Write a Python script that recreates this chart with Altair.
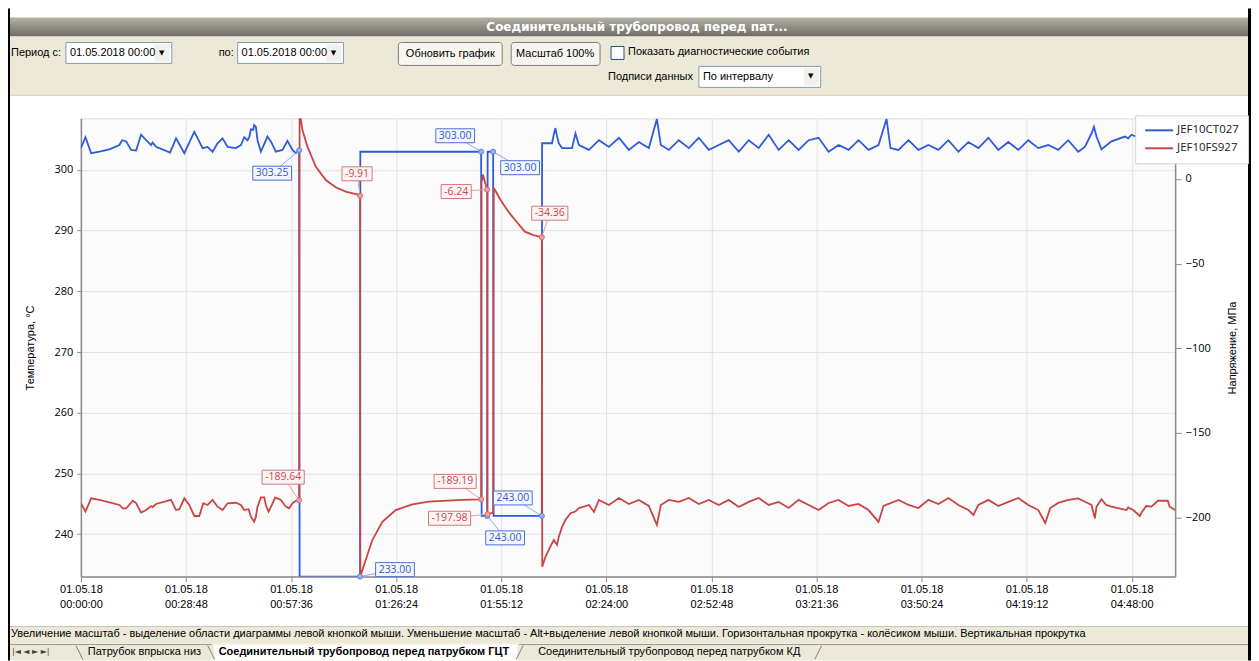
import altair as alt
import pandas as pd

# ---------------- data ----------------
SERIES = ["JEF10CT027", "JEF10FS927"]

# time in minutes after 01.05.18 00:00:00
BLUE_T = [0, 1.26, 2.82, 5.09, 7.83, 10.56, 11.30, 12.40, 13.76, 15.13, 16.50, 17.87, 19.24, 19.67, 20.61,
          24.44, 26.08, 28.35, 31.09, 33.36, 34.73, 36.09, 37.46, 38.83, 40.20, 42.50, 43.86, 44.77, 45.67,
          46.14, 46.60, 47.23, 47.50, 47.97, 48.41, 49.34, 51.14, 52.07, 53.44, 55.25, 56.62, 57.98, 58.91, 59.82,
          59.95, 76.51, 76.59, 109.70, 109.84, 111.34, 111.48, 112.99, 113.12, 126.32,
          126.40, 129.13, 129.60, 130.06, 130.50, 130.97, 131.87, 134.61, 135.54,
          136.51, 139.25, 141.98, 144.72, 147.46, 150.19, 152.93, 155.67, 157.86, 158.95,
          161.14, 163.88, 166.62, 169.35, 172.09, 174.83, 177.56, 180.30, 183.04, 185.77,
          188.51, 191.25, 193.98, 196.72, 199.46, 202.19, 204.93, 207.66, 210.40, 213.14,
          215.87, 218.61, 220.80, 221.89, 224.08, 226.82, 229.55, 232.29, 235.03, 237.76,
          240.50, 243.24, 245.97, 248.71, 251.45, 254.18, 256.92, 259.66, 262.39, 265.13,
          267.87, 270.60, 273.34,
          275.17, 276.98, 277.64, 278.35, 279.72, 282.46, 286.12, 287.03, 287.93, 291.13, 295.24, 299.9]
BLUE_V = [303.6, 305.4, 302.75, 303.0, 303.4, 304.1, 304.9, 304.7, 303.3, 303.2, 305.8, 304.9, 304.1, 304.5, 303.8,
          302.85, 305.2, 302.75, 306.3, 303.6, 303.8, 303.0, 304.4, 305.2, 303.8, 303.6, 304.1, 305.4, 304.9,
          305.4, 306.7, 306.6, 307.4, 307.1, 304.9, 303.0, 305.5, 304.7, 303.0, 303.3, 304.8, 303.3, 302.75, 303.25,
          233.0, 233.0, 303.0, 303.0, 243.0, 243.0, 303.0, 303.0, 243.0, 243.0,
          304.4, 304.4, 305.8, 306.9, 305.6, 304.4, 303.6, 303.6, 306.0,
          304.1, 303.3, 304.9, 303.8, 305.3, 303.3, 304.6, 303.6, 308.4, 304.1,
          303.3, 304.9, 303.6, 305.3, 303.3, 304.1, 304.9, 303.0, 304.9, 303.6,
          305.8, 303.3, 304.9, 303.3, 304.9, 305.3, 303.0, 304.1, 303.3, 304.9,
          303.3, 304.1, 308.4, 303.6, 303.3, 304.9, 303.3, 304.1, 303.3, 304.9,
          303.0, 304.6, 303.6, 305.3, 303.3, 304.6, 303.3, 304.9, 303.6, 304.1,
          303.3, 304.9, 303.0,
          303.8, 306.0, 307.1, 305.5, 303.4, 304.7, 305.5, 305.2, 305.8, 305.0, 305.4, 305.0]

RED_T = [0, 1.26, 2.82, 5.09, 10.56, 11.48, 12.40, 14.23, 15.13, 16.50, 17.87, 19.24, 19.67, 20.61, 24.71,
         26.08, 27.00, 28.35, 29.71, 31.09, 32.45, 33.55, 34.73, 36.09, 37.46, 38.83, 40.20, 42.50, 43.86,
         44.77, 45.95, 46.60, 47.50, 47.97, 48.41, 49.34, 50.25, 50.70, 51.42, 52.35, 53.25, 54.81, 56.17,
         57.08, 57.98, 58.91, 59.82,
         59.95, 60.72, 62.09, 64.37, 67.11, 69.85, 72.58, 76.23, 76.51, 76.60,
         78.06, 79.88, 82.62, 86.28, 90.83, 95.40, 104.5, 109.70, 109.80, 110.20,
         110.70, 111.34, 111.45, 112.99, 113.15, 113.5, 114.8, 116.2, 117.6, 119.0, 121.7, 124.0, 126.32,
         126.45, 127.35, 128.7, 129.6, 130.5, 131.0, 131.9, 132.8, 134.2, 135.5,
         136.51, 139.25, 140.61, 141.98, 144.72, 147.46, 150.19, 152.93, 155.67, 157.86,
         158.95, 161.14, 163.88, 166.62, 169.35, 172.09, 174.83, 177.56, 180.30, 183.04,
         185.77, 188.51, 191.25, 193.98, 196.72, 199.46, 202.19, 204.93, 207.66, 210.40,
         213.14, 215.87, 218.61, 219.98, 224.08, 226.82, 229.55, 232.29, 235.03, 237.76,
         240.50, 243.24, 244.61, 245.97, 248.71, 251.45, 254.18, 256.92, 259.66, 262.39,
         264.31, 265.68, 267.87, 270.60, 273.34, 276.07, 276.98, 277.91, 278.35, 279.72,
         281.0, 282.46, 286.56, 287.03, 288.40, 290.23, 290.67, 292.0, 293.4, 295.2,
         297.9, 298.4, 299.9]
RED_V = [-191.5, -196.4, -188.6, -189.5, -192.5, -194.5, -194.5, -190.0, -191.4, -197.0, -195.5, -193.1, -193.7,
         -191.9, -189.5, -195.5, -195.0, -188.6, -192.5, -199.0, -199.0, -191.5, -192.5, -189.5, -193.5, -195.5,
         -191.5, -191.2, -192.5, -195.5, -195.0, -199.4, -202.4, -199.4, -193.5, -188.0, -188.0, -192.5, -196.4,
         -192.5, -188.0, -189.5, -193.5, -194.5, -191.5, -190.0, -189.64,
         40.0, 28.9, 19.1, 7.3, -0.6, -4.9, -7.5, -9.4, -9.91, -234.5,
         -225.0, -213.2, -202.4, -195.5, -192.1, -190.5, -189.5, -189.19, -2.0, 2.5,
         -1.5, -6.24, -197.98, -197.0, -5.5, -6.5, -11.5, -16.3, -20.5, -24.2, -31.1, -33.2, -34.36,
         -229.0, -223.0, -217.0, -213.2, -216.0, -211.2, -205.3, -201.4, -197.4, -196.4,
         -194.3, -192.5, -196.6, -189.5, -192.5, -188.4, -191.9, -189.5, -193.1, -204.3,
         -192.5, -189.5, -190.7, -188.4, -191.9, -189.5, -192.5, -189.5, -193.7, -190.7,
         -188.4, -192.5, -190.7, -194.3, -189.5, -192.5, -195.5, -191.3, -189.5, -193.1,
         -191.9, -195.5, -202.5, -193.1, -189.5, -192.5, -194.3, -189.5, -191.9, -188.4,
         -192.5, -195.5, -198.4, -192.5, -189.5, -193.1, -190.7, -188.4, -192.5, -195.5,
         -203.1, -194.3, -191.3, -189.5, -188.6, -191.5, -192.5, -200.4, -193.5, -189.1,
         -192.5, -193.5, -195.5, -193.9, -195.5, -199.0, -197.0, -193.1, -193.5, -190.0,
         -190.0, -193.5, -195.5]

# data labels (points that carry a value box)
BLUE_LAB_T = [59.82, 76.51, 109.70, 112.99, 126.32, 111.34]
BLUE_LAB_V = [303.25, 233.00, 303.00, 303.00, 243.00, 243.00]
RED_LAB_T = [76.51, 111.34, 126.32, 59.82, 109.70, 111.45]
RED_LAB_V = [-9.91, -6.24, -34.36, -189.64, -189.19, -197.98]

# axis ticks
X_TICKS = [0, 28.8, 57.6, 86.4, 115.2, 144.0, 172.8, 201.6, 230.4, 259.2, 288.0]
T_TICKS = [240, 250, 260, 270, 280, 290, 300]
S_TICKS = [0, -50, -100, -150, -200]

# ---------------- layout / style ----------------
XMIN, XMAX = 0.0, 299.9
TMIN, TMAX = 233.0, 308.5
SMIN, SMAX = -234.8, 35.8
W, H = 1096, 459
OX, OY = 81, 118  # page position of plot origin (used for UI decoration only)

BLUE, RED = "#2E5BD8", "#C94545"
# label box offsets from their point, in pixels (dx right, dy down)
BLUE_LAB_OFF = [(-27, 23), (35, -7), (-26, -16), (27, 16), (-29, -18), (18, 22)]
RED_LAB_OFF = [(-3, -22), (-31, 2), (8, -24), (-16, -23), (-26, -18), (-38, 4)]

LAB_FONT, LAB_FS = "Open Sans", 10.5
BOX_H = 14

px_x = W / (XMAX - XMIN)


def text_width(s, fs):
    w = 0.0
    for ch in s:
        w += {"-": 0.322, ".": 0.267}.get(ch, 0.572)
    return w * fs


def label_frame(ts, vs, offs, vmin, vmax):
    px_v = H / (vmax - vmin)
    rows = []
    for t, v, (dx, dy) in zip(ts, vs, offs):
        txt = f"{v:.2f}"
        bw = text_width(txt, LAB_FS) + 6
        lt = t + dx / px_x
        lv = v - dy / px_v
        rows.append(dict(t=t, v=v, lt=lt, lv=lv, txt=txt,
                         x1=lt - bw / 2 / px_x, x2=lt + bw / 2 / px_x,
                         y1=lv - BOX_H / 2 / px_v, y2=lv + BOX_H / 2 / px_v))
    return pd.DataFrame(rows)


blue_df = pd.DataFrame({"t": BLUE_T, "v": BLUE_V, "s": SERIES[0]})
red_df = pd.DataFrame({"t": RED_T, "v": RED_V, "s": SERIES[1]})
blue_lab = label_frame(BLUE_LAB_T, BLUE_LAB_V, BLUE_LAB_OFF, TMIN, TMAX)
red_lab = label_frame(RED_LAB_T, RED_LAB_V, RED_LAB_OFF, SMIN, SMAX)

GRID = "#E3E3E3"
AX = "#8A8A8A"
x_scale = alt.Scale(domain=[XMIN, XMAX], nice=False, zero=False)
t_scale = alt.Scale(domain=[TMIN, TMAX], nice=False, zero=False)
s_scale = alt.Scale(domain=[SMIN, SMAX], nice=False, zero=False)

lbl = "timeFormat(datetime(2018, 4, 1, 0, 0, round(datum.value * 60)), '%s')"
X_AXIS = alt.Axis(values=X_TICKS, title=None, grid=True, gridColor=GRID,
                  labelExpr="[" + lbl % "%d.%m.%y" + ", " + lbl % "%H:%M:%S" + "]",
                  domainColor=AX, domainWidth=1.5, tickColor=AX, tickSize=5,
                  labelFont="Liberation Sans", labelFontSize=11, labelColor="#000000",
                  labelPadding=2, labelLineHeight=15, labelFlush=False, labelOverlap=False)
T_AXIS = alt.Axis(orient="left", values=T_TICKS, title="Температура, °C", grid=True, gridColor=GRID,
                  domainColor=AX, domainWidth=1.5, tickColor=AX, tickSize=4, labelPadding=4,
                  labelFont="Open Sans", labelFontSize=11, labelColor="#000000",
                  titleFont="Liberation Sans", titleFontSize=11, titleFontWeight="normal",
                  titleColor="#000000", titlePadding=19)
S_AXIS = alt.Axis(orient="right", values=S_TICKS, title="Напряжение, МПа", grid=False,
                  domainColor=AX, domainWidth=1.5, tickColor=AX, tickSize=6, labelPadding=4,
                  labelFont="Open Sans", labelFontSize=11, labelColor="#000000",
                  titleFont="Liberation Sans", titleFontSize=11, titleFontWeight="normal",
                  titleColor="#000000", titlePadding=27, titleAngle=270)

color = alt.Color("s:N", scale=alt.Scale(domain=SERIES, range=[BLUE, RED]),
                  legend=alt.Legend(orient="none", legendX=1056, legendY=-3, title=None,
                                    fillColor="#FFFFFF", strokeColor="#D3D3D3", padding=9,
                                    symbolType="M-1,0H4.6", symbolStrokeWidth=2, symbolSize=100,
                                    labelFont="Open Sans", labelFontSize=11.5, labelColor="#202020",
                                    rowPadding=6, labelOffset=21))

blue_line = alt.Chart(blue_df).mark_line(strokeWidth=1.8, clip=True).encode(
    x=alt.X("t:Q", scale=x_scale, axis=X_AXIS),
    y=alt.Y("v:Q", scale=t_scale, axis=T_AXIS),
    color=color, order=alt.Order("t:Q"))
red_line = alt.Chart(red_df).mark_line(strokeWidth=1.8, clip=True).encode(
    x=alt.X("t:Q", scale=x_scale, axis=X_AXIS),
    y=alt.Y("v:Q", scale=s_scale, axis=S_AXIS),
    color=color, order=alt.Order("t:Q"))


def annotations(df, yscale, lead, mfill, mstroke, bfill, bstroke, tcol):
    base = alt.Chart(df)
    xs = alt.X("t:Q", scale=x_scale, axis=X_AXIS)
    rule = base.mark_rule(color=lead, strokeWidth=1).encode(
        x=xs, y=alt.Y("v:Q", scale=yscale, axis=None), x2="lt:Q", y2="lv:Q")
    box = base.mark_rect(fill=bfill, stroke=bstroke, strokeWidth=1).encode(
        x=alt.X("x1:Q", scale=x_scale, axis=X_AXIS), x2="x2:Q",
        y=alt.Y("y1:Q", scale=yscale, axis=None), y2="y2:Q")
    pt = base.mark_point(filled=True, size=26, fill=mfill, stroke=mstroke, strokeWidth=1, opacity=1).encode(
        x=xs, y=alt.Y("v:Q", scale=yscale, axis=None))
    txt = base.mark_text(font=LAB_FONT, fontSize=LAB_FS, color=tcol, align="center", baseline="middle").encode(
        x=alt.X("lt:Q", scale=x_scale, axis=X_AXIS), y=alt.Y("lv:Q", scale=yscale, axis=None), text="txt:N")
    return alt.layer(rule, pt, box, txt)


blue_ann = annotations(blue_lab, t_scale, "#8FA5E8", "#9DB2EE", "#5C7FDD", "#F3F6FE", "#4B6FD6", "#3459C9")
red_ann = annotations(red_lab, s_scale, "#E3A0A0", "#EBA2A2", "#D46A6A", "#FDF3F3", "#D27A7A", "#C24A4A")

# ---------------- surrounding window decoration (page pixel positions) ----------------
ONE = pd.DataFrame({"k": [0]})
TITLE_GRAD = alt.LinearGradient(gradient="linear", x1=0, y1=0, x2=0, y2=1,
                                stops=[alt.GradientStop(color="#B4B1A6", offset=0),
                                       alt.GradientStop(color="#6E6C65", offset=1)])
BEIGE = "#ECE9D8"
UI_RECTS = [
    (8, 8, 10, 661, "#000000", None, 0),
    (1250, 8, 1253, 661, "#000000", None, 0),
    (10, 17, 1250, 36, TITLE_GRAD, None, 0),
    (10, 36, 1250, 95, BEIGE, None, 0),
    (10, 627, 1250, 644, BEIGE, None, 0),
    (10, 644, 1250, 661, BEIGE, None, 0),
    (214, 645, 518, 661, "#FFFFFF", None, 0),
    (66, 42, 172, 63, "#FFFFFF", "#7F9DB9", 0),
    (155, 44, 170, 61, "#F1F0EA", None, 0),
    (238, 42, 344, 63, "#FFFFFF", "#7F9DB9", 0),
    (327, 44, 342, 61, "#F1F0EA", None, 0),
    (399, 42, 503, 65, "#F6F5F0", "#7B7B7B", 3),
    (512, 42, 601, 65, "#F6F5F0", "#7B7B7B", 3),
    (612, 46, 625, 59, "#FFFFFF", "#1C5180", 0),
    (700, 66, 822, 87, "#FFFFFF", "#7F9DB9", 0),
    (805, 68, 820, 85, "#F1F0EA", None, 0),
]
UI_LINES = [
    (10, 95, 1250, 95, "#D6D3C3"),
    (10, 627, 1250, 627, "#C9C6B6"),
    (10, 645, 212, 645, "#9A9A9A"),
    (520, 645, 1250, 645, "#9A9A9A"),
    (76, 646, 83, 660, "#808080"),
    (208, 646, 215, 660, "#808080"),
    (517, 660, 524, 646, "#808080"),
    (816, 660, 823, 646, "#808080"),
]
UI_TEXTS = [
    ("Соединительный трубопровод перед пат...", 638, 27, "center", 12, "bold", "#FFFFFF", "DejaVu Sans"),
    ("Период с:", 11, 53, "left", 11, "normal", "#000000", "Liberation Sans"),
    ("01.05.2018 00:00", 70, 53, "left", 11, "normal", "#000000", "Liberation Sans"),
    ("▼", 162, 53, "center", 7, "normal", "#000000", "DejaVu Sans"),
    ("по:", 219, 53, "left", 11, "normal", "#000000", "Liberation Sans"),
    ("01.05.2018 00:00", 242, 53, "left", 11, "normal", "#000000", "Liberation Sans"),
    ("▼", 334, 53, "center", 7, "normal", "#000000", "DejaVu Sans"),
    ("Обновить график", 451, 54, "center", 11, "normal", "#000000", "Liberation Sans"),
    ("Масштаб 100%", 556, 54, "center", 11, "normal", "#000000", "Liberation Sans"),
    ("Показать диагностические события", 629, 52, "left", 11, "normal", "#000000", "Liberation Sans"),
    ("Подписи данных", 694, 77, "right", 11, "normal", "#000000", "Liberation Sans"),
    ("По интервалу", 704, 77, "left", 11, "normal", "#000000", "Liberation Sans"),
    ("▼", 812, 76, "center", 7, "normal", "#000000", "DejaVu Sans"),
    ("Увеличение масштаб - выделение области диаграммы левой кнопкой мыши. Уменьшение масштаб - "
     "Alt+выделение левой кнопкой мыши. Горизонтальная прокрутка - колёсиком мыши. Вертикальная прокрутка",
     11, 634, "left", 11, "normal", "#000000", "Liberation Sans"),
    ("|◄   ◄   ►   ►|", 12, 653, "left", 8, "normal", "#404040", "DejaVu Sans"),
    ("Патрубок впрыска низ", 88, 653, "left", 11, "normal", "#000000", "Liberation Sans"),
    ("Соединительный трубопровод перед патрубком ГЦТ", 219, 653, "left", 11, "bold", "#000000", "Liberation Sans"),
    ("Соединительный трубопровод перед патрубком КД", 539, 653, "left", 11, "normal", "#000000", "Liberation Sans"),
]

deco = []
for x1, y1, x2, y2, fill, stroke, rad in UI_RECTS:
    kw = dict(fill=fill)
    if stroke:
        kw.update(stroke=stroke, strokeWidth=1)
    if rad:
        kw["cornerRadius"] = rad
    deco.append(alt.Chart(ONE).mark_rect(**kw).encode(
        x=alt.value(x1 - OX), x2=alt.value(x2 - OX), y=alt.value(y1 - OY), y2=alt.value(y2 - OY)))
for x1, y1, x2, y2, col in UI_LINES:
    deco.append(alt.Chart(ONE).mark_rule(color=col, strokeWidth=1).encode(
        x=alt.value(x1 - OX), x2=alt.value(x2 - OX), y=alt.value(y1 - OY), y2=alt.value(y2 - OY)))
for txt, x, y, al, fs, fw, col, font in UI_TEXTS:
    deco.append(alt.Chart(ONE).mark_text(text=txt, align=al, baseline="middle", fontSize=fs,
                                         fontWeight=fw, color=col, font=font).encode(
        x=alt.value(x - OX), y=alt.value(y - OY)))

chart = alt.layer(*deco, blue_line, red_line, blue_ann, red_ann).resolve_scale(
    y="independent").properties(width=W, height=H, padding=0).configure_view(
    fill="#FBFBFB", stroke="#DADADA")

chart.save("out.html", embed_options={"renderer": "svg", "actions": False})
